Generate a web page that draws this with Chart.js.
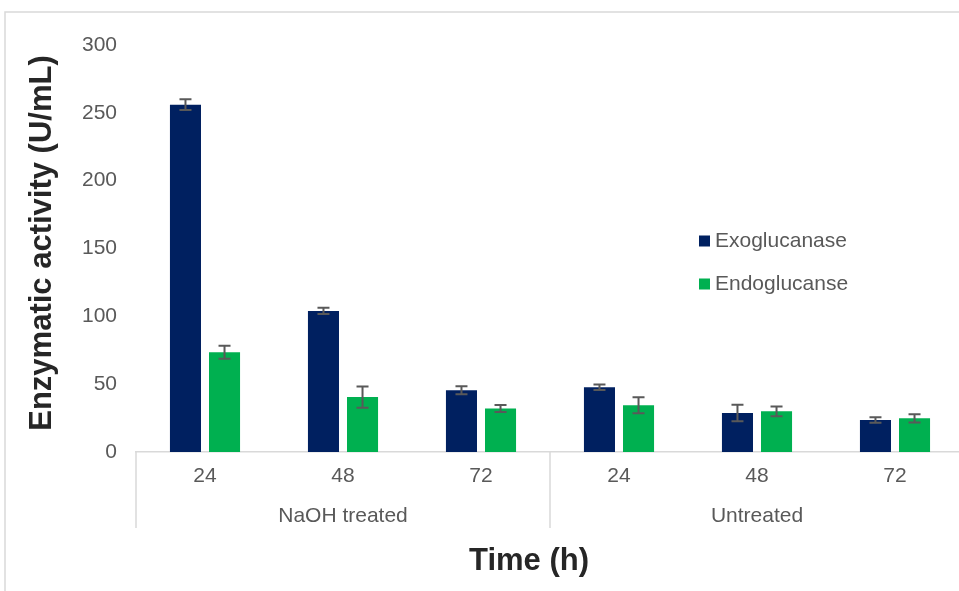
<!DOCTYPE html>
<html>
<head>
<meta charset="utf-8">
<script src="https://cdn.jsdelivr.net/npm/chart.js@4.4.1/dist/chart.umd.min.js"></script>
<style>
  html, body { margin: 0; padding: 0; background: #fff; overflow: hidden; }
  #wrap { width: 964px; height: 591px; position: relative; }
</style>
</head>
<body>
<div id="wrap"><canvas id="myChart" width="964" height="591"></canvas></div>
<script>
// chart data
const categories = ['24', '48', '72', '24', '48', '72'];
const groups = ['NaOH treated', 'Untreated'];
const exoValues = [256, 104, 45.5, 47.7, 28.7, 23.6];
const exoErrors = [4, 2.3, 2.9, 2, 6.1, 2];
const endoValues = [73.5, 40.5, 32, 34.4, 30, 24.8];
const endoErrors = [4.8, 7.8, 2.6, 5.9, 3.6, 3];
const seriesNames = ['Exoglucanase', 'Endoglucanse'];

const FONT = "'Liberation Sans', Arial, sans-serif";
const GREY = '#595959';
const LINE = '#d9d9d9';

// error bars on top of each bar
const errorBars = {
    id: 'errorBars',
    afterDatasetsDraw(chart) {
        const ctx = chart.ctx;
        const y = chart.scales.y;
        chart.data.datasets.forEach(function(ds, i) {
            const meta = chart.getDatasetMeta(i);
            meta.data.forEach(function(bar, j) {
                const v = ds.data[j];
                const e = ds.errors[j];
                const top = y.getPixelForValue(v + e);
                const bot = y.getPixelForValue(v - e);
                ctx.save();
                ctx.strokeStyle = GREY;
                ctx.lineWidth = 2;
                ctx.beginPath();
                ctx.moveTo(bar.x, top);
                ctx.lineTo(bar.x, bot);
                ctx.moveTo(bar.x - 6, top);
                ctx.lineTo(bar.x + 6, top);
                ctx.moveTo(bar.x - 6, bot);
                ctx.lineTo(bar.x + 6, bot);
                ctx.stroke();
                ctx.restore();
            });
        });
    }
};

// group labels, separators, legend, titles, frame
const extras = {
    id: 'extras',
    afterDraw(chart) {
        const ctx = chart.ctx;
        const area = chart.chartArea;
        const catW = (area.right - area.left) / categories.length;
        const per = categories.length / groups.length;
        ctx.save();

        // frame
        ctx.strokeStyle = LINE;
        ctx.lineWidth = 1.5;
        ctx.beginPath();
        ctx.moveTo(5, 1000);
        ctx.lineTo(5, 12);
        ctx.lineTo(1000, 12);
        ctx.stroke();

        // group separators
        ctx.beginPath();
        for (let g = 0; g <= groups.length; g++) {
            const sx = area.left + g * per * catW;
            ctx.moveTo(sx, area.bottom);
            ctx.lineTo(sx, 528);
        }
        ctx.stroke();

        // group labels
        ctx.fillStyle = GREY;
        ctx.font = '21px ' + FONT;
        ctx.textAlign = 'center';
        ctx.textBaseline = 'middle';
        groups.forEach(function(name, g) {
            const cx = area.left + (g + 0.5) * per * catW;
            ctx.fillText(name, cx, 516);
        });

        // legend
        ctx.textAlign = 'left';
        chart.data.datasets.forEach(function(ds, i) {
            const ly = 241 + i * 43;
            ctx.fillStyle = ds.backgroundColor;
            ctx.fillRect(699, ly - 5.5, 11, 11);
            ctx.fillStyle = GREY;
            ctx.fillText(ds.label, 715, ly);
        });

        // axis titles
        ctx.fillStyle = '#262626';
        ctx.font = 'bold 31px ' + FONT;
        ctx.textAlign = 'center';
        ctx.fillText('Time (h)', 529, 561);
        ctx.translate(42, 243);
        ctx.rotate(-Math.PI / 2);
        ctx.fillText('Enzymatic activity (U/mL)', 0, 0);
        ctx.restore();
    }
};

const ctx = document.getElementById('myChart').getContext('2d');
const myChart = new Chart(ctx, {
    type: 'bar',
    data: {
        labels: categories,
        datasets: [{
            label: seriesNames[0],
            data: exoValues,
            errors: exoErrors,
            backgroundColor: '#002060',
            categoryPercentage: 0.566,
            barPercentage: 0.795
        },
        {
            label: seriesNames[1],
            data: endoValues,
            errors: endoErrors,
            backgroundColor: '#00b050',
            categoryPercentage: 0.566,
            barPercentage: 0.795
        }]
    },
    options: {
        responsive: false,
        animation: false,
        layout: { padding: { top: 45, left: 0, right: 0, bottom: 0 } },
        plugins: {
            legend: { display: false },
            tooltip: { enabled: false }
        },
        scales: {
            x: {
                grid: { display: false, drawTicks: false },
                border: { display: true, color: LINE, width: 1.5 },
                ticks: { color: GREY, font: { family: FONT, size: 21 }, padding: 12 },
                afterFit: function(scale) { scale.height = 139; }
            },
            y: {
                min: 0,
                max: 300,
                grid: { display: false, drawTicks: false },
                border: { display: false },
                ticks: { stepSize: 50, color: GREY, font: { family: FONT, size: 21 }, padding: 19 },
                afterFit: function(scale) { scale.width = 136; }
            }
        }
    },
    plugins: [errorBars, extras]
});
</script>
</body>
</html>
